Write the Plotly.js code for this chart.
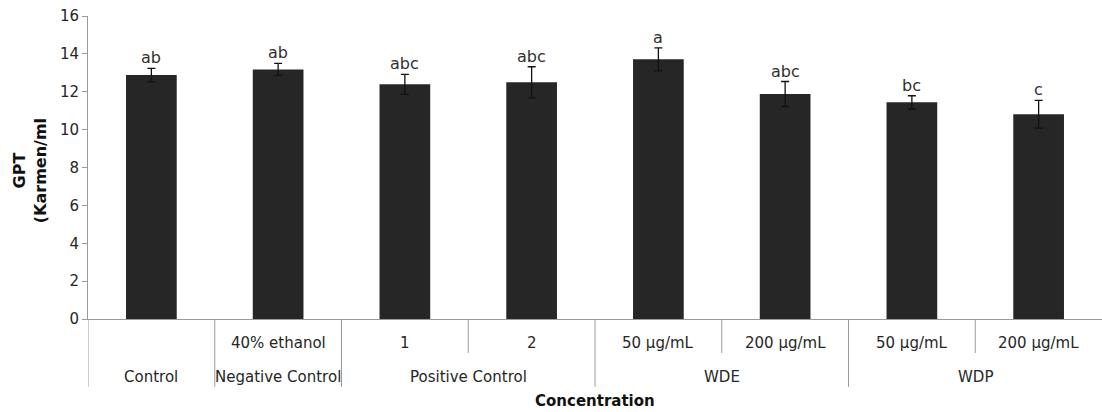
<!DOCTYPE html>
<html>
<head>
<meta charset="utf-8">
<script src="https://cdn.plot.ly/plotly-3.0.1.min.js"></script>
<style>html,body{margin:0;padding:0;background:#fff;}#chart{width:1102px;height:412px;}</style>
</head>
<body>
<div id="chart"></div>
<script>
// Data
const subLabels = ['', '40% ethanol', '1', '2', '50 µg/mL', '200 µg/mL', '50 µg/mL', '200 µg/mL'];
const groupLabels = ['Control', 'Negative Control', 'Positive Control', 'WDE', 'WDP'];
const groupSizes = [1, 1, 2, 2, 2];
const values = [12.88, 13.18, 12.39, 12.5, 13.71, 11.88, 11.44, 10.81];
const errors = [0.35, 0.32, 0.53, 0.82, 0.61, 0.66, 0.35, 0.73];
const letters = ['ab', 'ab', 'abc', 'abc', 'a', 'abc', 'bc', 'c'];

const FONT = 'DejaVu Sans, Verdana, sans-serif';
const TXT = '#262626';
const LINE = '#9a9a9a';
const idx = values.map((_, i) => i);

const annotations = [];
// significance letters
idx.forEach(i => annotations.push({
  x: i, y: values[i] + errors[i], xref: 'x', yref: 'y',
  text: letters[i], showarrow: false, yanchor: 'bottom', yshift: -1,
  font: {family: FONT, size: 16, color: '#303030'}
}));
// first-level category labels
idx.forEach(i => { if (subLabels[i]) annotations.push({
  x: i, y: -0.0792, xref: 'x', yref: 'paper', text: subLabels[i],
  showarrow: false, xanchor: 'center', yanchor: 'middle',
  font: {family: FONT, size: 15, color: TXT}
}); });
// group labels and divider shapes
const shapes = [];
let start = 0;
groupLabels.forEach((g, gi) => {
  const n = groupSizes[gi];
  const center = start + (n - 1) / 2;
  annotations.push({
    x: center, y: -0.191, xref: 'x', yref: 'paper', text: g,
    showarrow: false, xanchor: 'center', yanchor: 'middle',
    font: {family: FONT, size: 15, color: TXT}
  });
  shapes.push({type: 'line', xref: 'x', yref: 'paper', x0: start - 0.5, x1: start - 0.5,
    y0: 0, y1: -0.224, line: {color: LINE, width: 1}});
  for (let k = 1; k < n; k++) {
    shapes.push({type: 'line', xref: 'x', yref: 'paper', x0: start + k - 0.5, x1: start + k - 0.5,
      y0: 0, y1: -0.112, line: {color: LINE, width: 1}});
  }
  start += n;
});
// axis titles
annotations.push({
  x: 0.5, y: -0.271, xref: 'paper', yref: 'paper', text: '<b>Concentration</b>',
  showarrow: false, xanchor: 'center', yanchor: 'middle',
  font: {family: FONT, size: 15, color: '#111'}
});
annotations.push({
  x: -0.0575, y: 0.49, xref: 'paper', yref: 'paper', text: '<b>GPT<br>(Karmen/ml</b>',
  textangle: -90, showarrow: false, xanchor: 'center', yanchor: 'middle',
  font: {family: FONT, size: 16, color: '#111'}
});

const trace = {
  type: 'bar', x: idx, y: values, width: 0.4,
  marker: {color: '#262626', line: {width: 0}},
  error_y: {type: 'data', array: errors, visible: true, color: '#111', thickness: 1.3, width: 4},
  hoverinfo: 'none'
};

const layout = {
  width: 1102, height: 412,
  margin: {l: 88, r: 0, t: 16, b: 93, pad: 0},
  paper_bgcolor: '#fff', plot_bgcolor: '#fff',
  showlegend: false,
  xaxis: {range: [-0.5, 7.5], showticklabels: false, ticks: '', showgrid: false,
    zeroline: false, showline: true, linecolor: LINE, linewidth: 1, fixedrange: true},
  yaxis: {range: [0, 16], dtick: 2, tick0: 0, ticks: 'outside', ticklen: 5, tickcolor: LINE,
    showgrid: false, zeroline: false, showline: true, linecolor: LINE, linewidth: 1,
    tickfont: {family: FONT, size: 15, color: TXT}, fixedrange: true},
  annotations: annotations,
  shapes: shapes,
  font: {family: FONT}
};

Plotly.newPlot('chart', [trace], layout, {staticPlot: true, displayModeBar: false});
</script>
</body>
</html>
